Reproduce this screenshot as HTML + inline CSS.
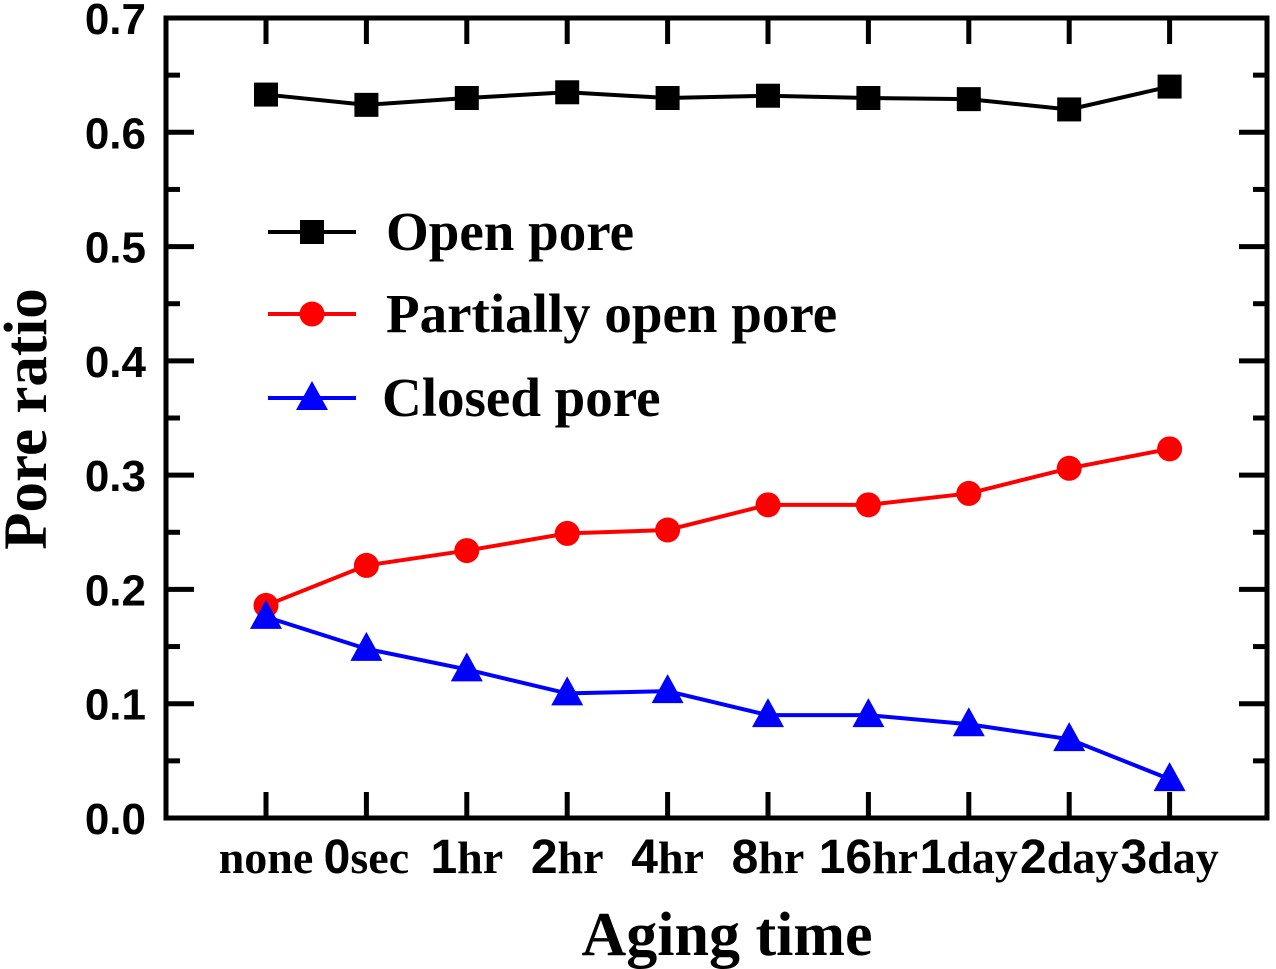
<!DOCTYPE html>
<html><head><meta charset="utf-8"><style>
html,body{margin:0;padding:0;background:#fff;}
svg{display:block;}
.s{font-family:"Liberation Sans",sans-serif;font-weight:bold;}
.r{font-family:"Liberation Serif",serif;font-weight:bold;}
</style></head><body>
<svg id="chart" width="1276" height="969" viewBox="0 0 1276 969" xmlns="http://www.w3.org/2000/svg">
<g id="axes"></g>
<g id="series"></g>
<g id="legend"></g>
<text class="r" x="727" y="955" font-size="62" text-anchor="middle">Aging time</text>
<text class="r" x="0" y="0" font-size="61" text-anchor="middle" transform="translate(46,419) rotate(-90)">Pore ratio</text>
</svg>
<script>
const categories=["none","0sec","1hr","2hr","4hr","8hr","16hr","1day","2day","3day"];
const openPore=[0.633,0.624,0.630,0.635,0.630,0.632,0.630,0.629,0.620,0.640];
const partialPore=[0.186,0.221,0.234,0.249,0.252,0.274,0.274,0.284,0.306,0.323];
const closedPore=[0.176,0.148,0.130,0.109,0.111,0.090,0.090,0.082,0.069,0.034];
const yTicks=["0.0","0.1","0.2","0.3","0.4","0.5","0.6","0.7"];
const NS="http://www.w3.org/2000/svg";
const L=166,R=1267,T=18,B=818;
function xs(i){return 266+i*100.4;}
function ys(v){return B-v/0.7*(B-T);}
function mk(tag,attrs,parent){const e=document.createElementNS(NS,tag);for(const k in attrs)e.setAttribute(k,attrs[k]);parent.appendChild(e);return e;}
const ax=document.getElementById('axes');
const frame=mk('rect',{x:L,y:T,width:R-L,height:B-T,fill:'none',stroke:'#000','stroke-width':5},ax);


for(let k=0;k<=14;k++){
  const v=k*0.05,y=ys(v),len=(k%2===0)?28:14;
  const t1=mk('line',{x1:L,x2:L+len,y1:y,y2:y,stroke:'#000','stroke-width':5},ax);
  
  
  const t2=mk('line',{x1:R,x2:R-len,y1:y,y2:y,stroke:'#000','stroke-width':5},ax);
  
  
}
yTicks.forEach((lab,k)=>{
  const t=mk('text',{x:146,y:ys(k*0.1)+16,'font-size':44,'text-anchor':'end','class':'s'},ax);
  t.textContent=lab;
  
  
});
categories.forEach((c,i)=>{
  const x=xs(i);
  const a=mk('line',{x1:x,x2:x,y1:B,y2:B-26,stroke:'#000','stroke-width':5},ax);
  
  
  const b=mk('line',{x1:x,x2:x,y1:T,y2:T+26,stroke:'#000','stroke-width':5},ax);
  
  
  const t=mk('text',{x:x,y:873,'font-size':46,'text-anchor':'middle'},ax);
  const m=c.match(/^(\d*)(.*)$/);
  if(m[1]){const s1=mk('tspan',{'class':'s','font-size':48},t);s1.textContent=m[1];}
  const s2=mk('tspan',{'class':'r'},t);s2.textContent=m[2];
  
  
});
const sg=document.getElementById('series');
function marker(type,x,y,color,parent){
  let e;
  if(type==='sq') e=mk('rect',{x:x-12,y:y-12,width:24,height:24,fill:color},parent);
  else if(type==='ci') e=mk('circle',{cx:x,cy:y,r:12.5,fill:color},parent);
  else e=mk('polygon',{points:`${x},${y-17} ${x-16},${y+12} ${x+16},${y+12}`,fill:color},parent);
  return e;
}
function series(vals,color,type,name){
  const g=mk('g',{},sg);
  
  
  const pl=mk('polyline',{points:vals.map((v,i)=>xs(i)+','+ys(v)).join(' '),fill:'none',stroke:color,'stroke-width':4},g);
  
  
  vals.forEach((v,i)=>{
    const m=marker(type,xs(i),ys(v),color,g);
    
    
  });
}
series(openPore,'#000','sq','open-pore-series');
series(partialPore,'#f00','ci','partially-open-series');
series(closedPore,'#00f','tr','closed-pore-series');
const lg=document.getElementById('legend');
const items=[["Open pore","#000","sq",232,386],["Partially open pore","#f00","ci",314,386],["Closed pore","#00f","tr",398,382]];
items.forEach(([lab,col,type,y,tx])=>{
  const g=mk('g',{},lg);
  
  
  mk('line',{x1:268,x2:356,y1:y,y2:y,stroke:col,'stroke-width':4},g);
  marker(type,312,y,col,g);
  const t=mk('text',{x:tx,y:y+18,'font-size':55,'class':'r'},g);
  t.textContent=lab;
});
</script>
</body></html>
